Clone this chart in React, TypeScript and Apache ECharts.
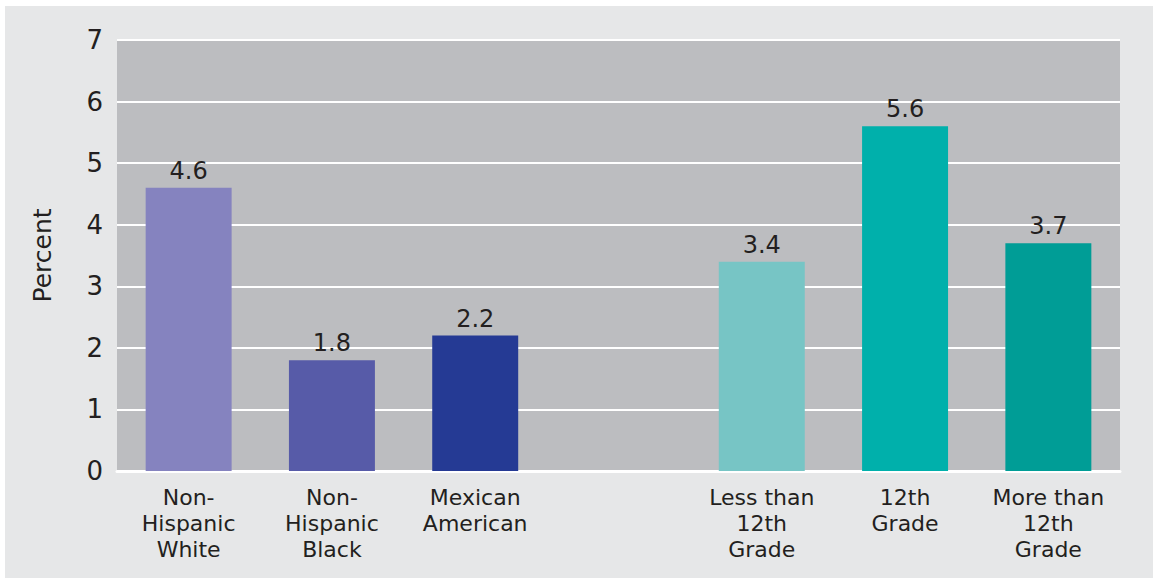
import React, { useEffect, useRef } from "react";
import * as echarts from "echarts";

const categories = [
  "Non-\nHispanic\nWhite",
  "Non-\nHispanic\nBlack",
  "Mexican\nAmerican",
  "",
  "Less than\n12th\nGrade",
  "12th\nGrade",
  "More than\n12th\nGrade",
];
const values: (number | string)[] = [4.6, 1.8, 2.2, "-", 3.4, 5.6, 3.7];
const barColors = ["#8583bf", "#575ba8", "#253a94", "#bcbdc0", "#77c5c5", "#00b0ab", "#009d96"];
const yTicks = [0, 1, 2, 3, 4, 5, 6, 7];

const FONT = "DejaVu Sans";
const TEXT = "#231f20";

export default function App() {
  const ref = useRef<HTMLDivElement>(null);
  useEffect(() => {
    if (!ref.current) return;
    const chart = echarts.init(ref.current, null, { renderer: "svg" });
    chart.setOption({
      animation: false,
      backgroundColor: "#ffffff",
      graphic: [
        {
          type: "rect",
          z: -10,
          silent: true,
          shape: { x: 5, y: 6, width: 1148, height: 572 },
          style: { fill: "#e6e7e8" },
        },
      ],
      grid: {
        left: 117,
        right: 33,
        top: 40,
        bottom: 109,
        show: true,
        backgroundColor: "#bcbdc0",
        borderWidth: 0,
      },
      xAxis: {
        type: "category",
        data: categories,
        axisLine: { show: true, lineStyle: { color: "#ffffff", width: 3 } },
        axisTick: { show: false },
        axisLabel: {
          interval: 0,
          margin: 13,
          fontFamily: FONT,
          fontSize: 22,
          lineHeight: 26,
          color: TEXT,
        },
      },
      yAxis: {
        type: "value",
        min: yTicks[0],
        max: yTicks[yTicks.length - 1],
        interval: 1,
        name: "Percent",
        nameLocation: "middle",
        nameRotate: 90,
        nameGap: 62,
        nameTextStyle: { fontFamily: FONT, fontSize: 25, color: TEXT },
        axisLine: { show: false },
        axisTick: { show: false },
        axisLabel: { margin: 14, fontFamily: FONT, fontSize: 26, color: TEXT },
        splitLine: { show: true, lineStyle: { color: "#ffffff", width: 2 } },
      },
      series: [
        {
          type: "bar",
          data: values.map((v, i) => ({ value: v, itemStyle: { color: barColors[i] } })),
          barWidth: "60%",
          label: {
            show: true,
            position: "top",
            distance: 5,
            fontFamily: FONT,
            fontSize: 24,
            color: TEXT,
            formatter: (p: any) => (typeof p.value === "number" ? p.value.toFixed(1) : ""),
          },
        },
      ],
    });
    return () => chart.dispose();
  }, []);
  return (
    <div
      ref={ref}
      style={{ position: "absolute", left: 0, top: 0, width: 1153, height: 580 }}
    />
  );
}
